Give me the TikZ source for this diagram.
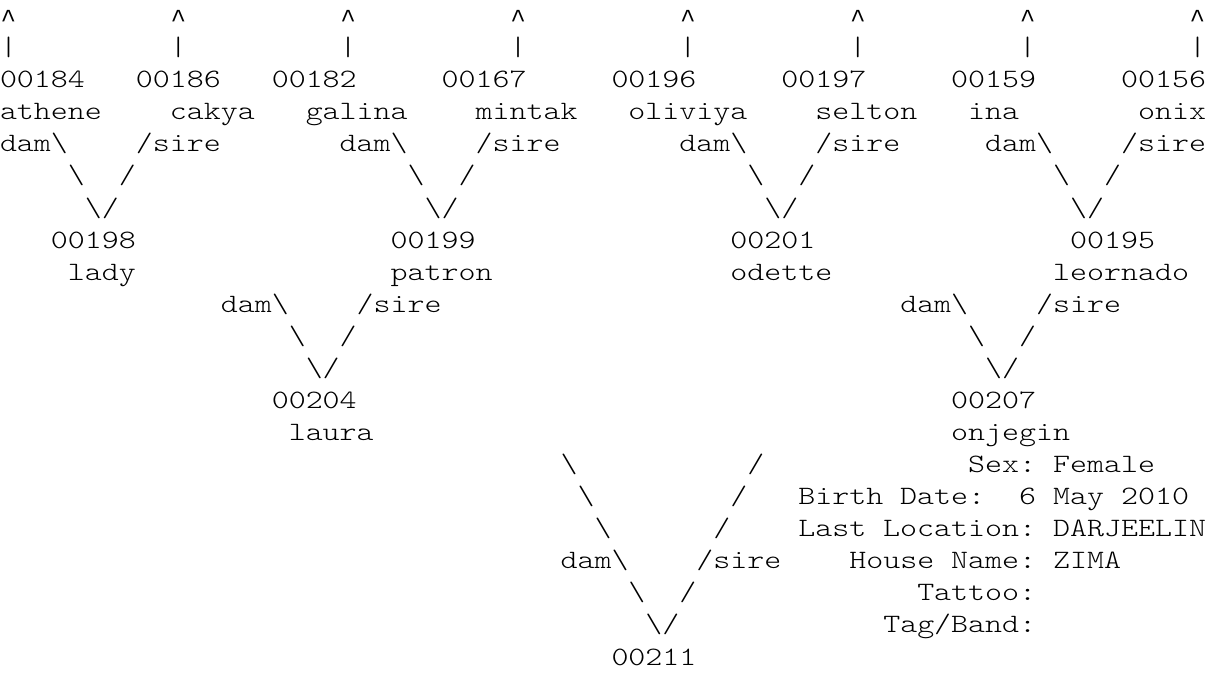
\documentclass[tikz,border=0pt]{standalone}
\usepackage{fontspec}
\setmonofont{lmmonolt10-regular.otf}[FakeStretch=1.2209]
\newfontfamily\caretfont{Liberation Mono}

\begin{document}
\begin{tikzpicture}[x=16.985pt, y=-32.07pt,
  txt/.style={inner sep=0pt, outer sep=0pt, anchor=base west, yshift=-23.57pt,
    font=\ttfamily\fontsize{26.5pt}{32.07pt}\selectfont},
  caret/.style={txt, xshift=.7pt, yshift=-4pt, font=\caretfont\fontsize{26pt}{32pt}\selectfont}]
\useasboundingbox (0,0) rectangle (71,21);

% founders: arrow, bar, id and name
\foreach \c in {0,10,...,70}{
\node[caret](up\c) at (\c,0){\textasciicircum};
\node[txt](bar\c) at (\c,1){|};
}
\foreach \c/\id/\nm/\d in {0/00184/athene/0, 8/00186/cakya/2, 16/00182/galina/2, 26/00167/mintak/2,
  36/00196/oliviya/1, 46/00197/selton/2, 56/00159/ina/1, 66/00156/onix/1}{
\node[txt](id\id) at (\c,2){\id};
\node[txt](\nm) at (\c+\d,3){\nm};
}

% small v's: dam left, sire right
\foreach \a/\r in {3/4, 23/4, 43/4, 61/4, 16/9, 56/9}{
\node[txt](dam\a) at (\a-3,\r){dam\textbackslash};
\node[txt](sire\a) at (\a+5,\r){/sire};
\node[txt](l\a) at (\a+1,\r+1){\textbackslash};
\node[txt](r\a) at (\a+4,\r+1){/};
\node[txt](v\a) at (\a+2,\r+2){\textbackslash/};
}

% offspring
\foreach \c/\r/\id/\nm/\d in {3/7/00198/lady/1, 23/7/00199/patron/0, 43/7/00201/odette/0,
  63/7/00195/leornado/-1, 16/12/00204/laura/1, 56/12/00207/onjegin/0}{
\node[txt](id\id) at (\c,\r){\id};
\node[txt](\nm) at (\c+\d,\r+1){\nm};
}

% last v
\foreach \k in {0,1,2}{
\node[txt](bl\k) at (33+\k,14+\k){\textbackslash};
\node[txt](br\k) at (44-\k,14+\k){/};
}
\node[txt](damlast) at (33,17){dam\textbackslash};
\node[txt](sirelast) at (41,17){/sire};
\node[txt](bl3) at (37,18){\textbackslash};
\node[txt](br3) at (40,18){/};
\node[txt](vlast) at (38,19){\textbackslash/};
\node[txt](id00211) at (36,20){00211};

% details
\node[txt](sex) at (57,14){Sex: Female};
\node[txt](birth) at (47,15){Birth Date:~~6 May 2010};
\node[txt](loc) at (47,16){Last Location: DARJEELIN};
\node[txt](house) at (50,17){House Name: ZIMA};
\node[txt](tattoo) at (54,18){Tattoo:};
\node[txt](tag) at (52,19){Tag/Band:};
\end{tikzpicture}
\end{document}
